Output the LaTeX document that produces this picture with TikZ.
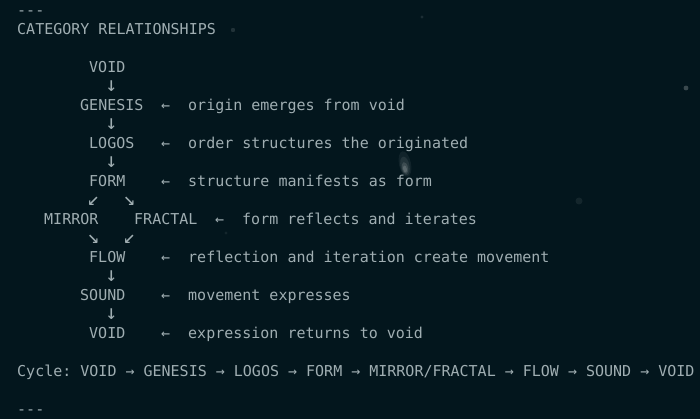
\documentclass[tikz,border=0pt]{standalone}
\usepackage{fontspec}
\setmonofont{DejaVu Sans Mono}
\definecolor{bg}{HTML}{03161D}
\definecolor{fg}{HTML}{A0AEB2}
\begin{document}
\begin{tikzpicture}[x=1pt,y=-1pt,
  txt/.style={anchor=base west, inner sep=0pt, text=fg, font=\ttfamily\fontsize{15}{19}\selectfont},
  arw/.style={anchor=base, inner sep=0pt, text=fg, font=\ttfamily\fontsize{20}{19}\selectfont},
  speck/.style={fill=white}]
\fill[bg] (0,0) rectangle (700,419);
\useasboundingbox (0,0) rectangle (700,419);
% faint background specks
\fill[speck, opacity=.12] (233,30) circle (2.2);
\fill[speck, opacity=.10] (422,17) circle (1.6);
\fill[speck, opacity=.22] (686,88) circle (2.4);
\fill[speck, opacity=.07] (579,201) circle (3.5);
\fill[speck, opacity=.07] (226,233) circle (1.6);
\fill[speck, opacity=.06, rotate around={12:(405,164)}] (405,164) ellipse (6 and 13);
\fill[speck, opacity=.08, rotate around={12:(405,166)}] (405,166) ellipse (4.5 and 9.5);
\fill[speck, opacity=.12, rotate around={12:(405,168)}] (405,168) ellipse (3 and 6);
\fill[speck, opacity=.15, rotate around={12:(405,169)}] (405,169) ellipse (1.8 and 3.5);
% text
\node[txt] (hrtop) at (17,15.5) {---};
\node[txt] (title) at (17,34.5) {CATEGORY RELATIONSHIPS};
\node[txt] (void) at ({17+9*8},72.5) {VOID};
\node[arw] (down1) at ({17+9*10+4.5},91.5) {↓};
\node[txt] (genesis) at ({17+9*7},110.5) {GENESIS};
\node[txt] (lgen) at ({17+9*16},110.5) {←};
\node[txt] (dgen) at ({17+9*19},110.5) {origin emerges from void};
\node[arw] (down2) at ({17+9*10+4.5},129.5) {↓};
\node[txt] (logos) at ({17+9*8},148.5) {LOGOS};
\node[txt] (llog) at ({17+9*16},148.5) {←};
\node[txt] (dlog) at ({17+9*19},148.5) {order structures the originated};
\node[arw] (down3) at ({17+9*10+4.5},167.5) {↓};
\node[txt] (form) at ({17+9*8},186.5) {FORM};
\node[txt] (lform) at ({17+9*16},186.5) {←};
\node[txt] (dform) at ({17+9*19},186.5) {structure manifests as form};
\node[arw] (sw1) at ({17+9*8+4.5},205.5) {↙};
\node[arw] (se1) at ({17+9*12+4.5},205.5) {↘};
\node[txt] (mirror) at ({17+9*3},224.5) {MIRROR};
\node[txt] (fractal) at ({17+9*13},224.5) {FRACTAL};
\node[txt] (lfrac) at ({17+9*22},224.5) {←};
\node[txt] (dfrac) at ({17+9*25},224.5) {form reflects and iterates};
\node[arw] (se2) at ({17+9*8+4.5},243.5) {↘};
\node[arw] (sw2) at ({17+9*12+4.5},243.5) {↙};
\node[txt] (flow) at ({17+9*8},262.5) {FLOW};
\node[txt] (lflow) at ({17+9*16},262.5) {←};
\node[txt] (dflow) at ({17+9*19},262.5) {reflection and iteration create movement};
\node[arw] (down4) at ({17+9*10+4.5},281.5) {↓};
\node[txt] (sound) at ({17+9*7},300.5) {SOUND};
\node[txt] (lsound) at ({17+9*16},300.5) {←};
\node[txt] (dsound) at ({17+9*19},300.5) {movement expresses};
\node[arw] (down5) at ({17+9*10+4.5},319.5) {↓};
\node[txt] (voidend) at ({17+9*8},338.5) {VOID};
\node[txt] (lvoid) at ({17+9*16},338.5) {←};
\node[txt] (dvoid) at ({17+9*19},338.5) {expression returns to void};
\node[txt] (cycle) at (17,376.5) {Cycle: VOID → GENESIS → LOGOS → FORM → MIRROR/FRACTAL → FLOW → SOUND → VOID};
\node[txt] (hrbot) at (17,414.5) {---};
\end{tikzpicture}
\end{document}
